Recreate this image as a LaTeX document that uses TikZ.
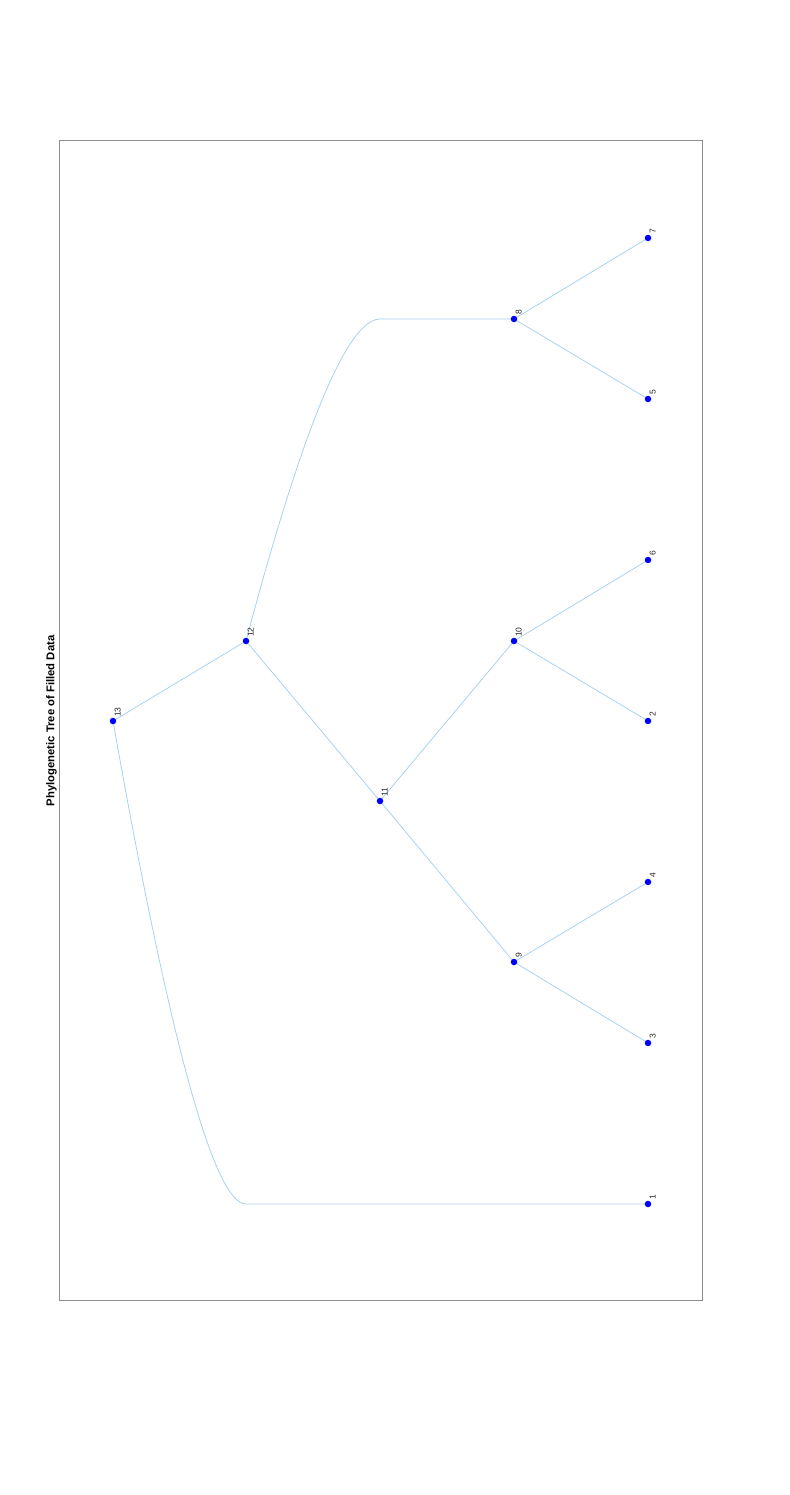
\documentclass[tikz,border=0pt]{standalone}
\usepackage{fontspec}
\setmainfont{Liberation Sans}
\definecolor{edgeblue}{RGB}{168,210,240}
\definecolor{dotblue}{RGB}{0,0,255}
\definecolor{framegray}{RGB}{140,140,140}
\begin{document}
\begin{tikzpicture}[x=1pt,y=-1pt,
  dot/.style={circle,fill=dotblue,inner sep=0pt,minimum size=6.5pt},
  edge/.style={draw=edgeblue,line width=0.8pt},
  lbl/.style={rotate=90,anchor=north west,inner sep=0pt,font=\fontsize{8.5}{9}\selectfont,text=black!85}]
\useasboundingbox (0,0) rectangle (789,1495);
\draw[framegray,line width=1pt] (59,141) rectangle (702,1300);
\node[rotate=90,font=\bfseries\fontsize{11.3}{13}\selectfont] (title) at (51.5,721) {Phylogenetic Tree of Filled Data};
% node positions
\coordinate (p13) at (113,721);
\coordinate (p12) at (246,641);
\coordinate (p11) at (380,801);
\coordinate (p10) at (514,641);
\coordinate (p9) at (514,962);
\coordinate (p8) at (514,319);
\coordinate (p7) at (648,238);
\coordinate (p5) at (648,399);
\coordinate (p6) at (648,560);
\coordinate (p2) at (648,721);
\coordinate (p4) at (648,882);
\coordinate (p3) at (648,1043);
\coordinate (p1) at (648,1204);
\coordinate (c1) at (246,1204);
\coordinate (c8) at (380,319);
% edges
\draw[edge] (p13) -- (p12);
\draw[edge] (p12) -- (p11);
\draw[edge] (p11) -- (p10);
\draw[edge] (p11) -- (p9);
\draw[edge] (p10) -- (p6);
\draw[edge] (p10) -- (p2);
\draw[edge] (p9) -- (p4);
\draw[edge] (p9) -- (p3);
\draw[edge] (p8) -- (p7);
\draw[edge] (p8) -- (p5);
\draw[edge] (p13) .. controls (150,930) and (205,1204) .. (c1) -- (p1);
\draw[edge] (p12) .. controls (283,502) and (338,319) .. (c8) -- (p8);
% dots and labels
\foreach \n in {1,...,13}{
  \node[dot] (n\n) at (p\n) {};
  \node[lbl] (l\n) at ([shift={(1.5,-4)}]p\n) {\n};
}
\end{tikzpicture}
\end{document}
